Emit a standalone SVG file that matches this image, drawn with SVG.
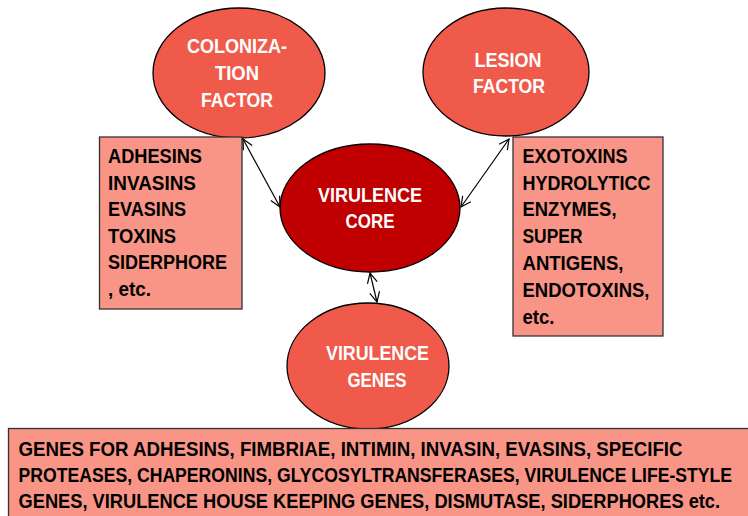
<svg xmlns="http://www.w3.org/2000/svg" width="748" height="516" viewBox="0 0 748 516">
<style>
.ell{fill:#F05A4B;stroke:#000;stroke-width:1.3}
.core{fill:#C00000;stroke:#000;stroke-width:1.3}
.box{fill:#F99586;stroke:#333;stroke-width:1.3}
.wt{font-family:"Liberation Sans",Arial,sans-serif;font-weight:bold;font-size:21px;fill:#fff;text-anchor:middle}
.bt{font-family:"Liberation Sans",Arial,sans-serif;font-weight:bold;font-size:21px;fill:#000}
.con{stroke:#000;stroke-width:1.2;fill:none;marker-start:url(#ah);marker-end:url(#ah)}
</style>
<defs>
<marker id="ah" viewBox="0 0 12 12" refX="11" refY="6" markerWidth="12" markerHeight="12" markerUnits="userSpaceOnUse" orient="auto-start-reverse">
<path d="M1,1 L11,6 L1,11" fill="none" stroke="#000" stroke-width="1.2"/>
</marker>
</defs>
<rect width="748" height="516" fill="#fff"/>
<g id="colonization">
<ellipse class="ell" cx="239" cy="73" rx="86" ry="65"/>
<text class="wt" x="237" y="53" textLength="100" lengthAdjust="spacingAndGlyphs">COLONIZA-</text>
<text class="wt" x="237" y="80" textLength="44" lengthAdjust="spacingAndGlyphs">TION</text>
<text class="wt" x="237" y="107" textLength="72" lengthAdjust="spacingAndGlyphs">FACTOR</text>
</g>
<g id="lesion">
<ellipse class="ell" cx="506" cy="72" rx="83" ry="64"/>
<text class="wt" x="508" y="67" textLength="67" lengthAdjust="spacingAndGlyphs">LESION</text>
<text class="wt" x="509" y="93" textLength="72" lengthAdjust="spacingAndGlyphs">FACTOR</text>
</g>
<g id="colonization-box">
<rect class="box" x="99.5" y="137" width="142.5" height="172"/>
<text class="bt" x="108" y="163" textLength="94" lengthAdjust="spacingAndGlyphs">ADHESINS</text>
<text class="bt" x="108" y="189.5" textLength="88" lengthAdjust="spacingAndGlyphs">INVASINS</text>
<text class="bt" x="108" y="216" textLength="78" lengthAdjust="spacingAndGlyphs">EVASINS</text>
<text class="bt" x="108" y="242.5" textLength="68" lengthAdjust="spacingAndGlyphs">TOXINS</text>
<text class="bt" x="108" y="269" textLength="119" lengthAdjust="spacingAndGlyphs">SIDERPHORE</text>
<text class="bt" x="108" y="296" textLength="43" lengthAdjust="spacingAndGlyphs">, etc.</text>
</g>
<g id="lesion-box">
<rect class="box" x="513" y="137" width="150" height="199"/>
<text class="bt" x="522.5" y="163" textLength="105" lengthAdjust="spacingAndGlyphs">EXOTOXINS</text>
<text class="bt" x="522.5" y="189.5" textLength="128" lengthAdjust="spacingAndGlyphs">HYDROLYTICC</text>
<text class="bt" x="522.5" y="216" textLength="94" lengthAdjust="spacingAndGlyphs">ENZYMES,</text>
<text class="bt" x="522.5" y="242.5" textLength="60" lengthAdjust="spacingAndGlyphs">SUPER</text>
<text class="bt" x="522.5" y="269.5" textLength="101" lengthAdjust="spacingAndGlyphs">ANTIGENS,</text>
<text class="bt" x="522.5" y="296.5" textLength="127" lengthAdjust="spacingAndGlyphs">ENDOTOXINS,</text>
<text class="bt" x="522.5" y="324" textLength="32" lengthAdjust="spacingAndGlyphs">etc.</text>
</g>
<g id="core">
<ellipse class="core" cx="370" cy="208" rx="90" ry="64"/>
<text class="wt" x="370" y="202" textLength="104" lengthAdjust="spacingAndGlyphs">VIRULENCE</text>
<text class="wt" x="370" y="228" textLength="49" lengthAdjust="spacingAndGlyphs">CORE</text>
</g>
<g id="genes">
<ellipse class="ell" cx="368" cy="366" rx="81" ry="63"/>
<text class="wt" x="377.5" y="360" textLength="103" lengthAdjust="spacingAndGlyphs">VIRULENCE</text>
<text class="wt" x="377" y="387" textLength="59" lengthAdjust="spacingAndGlyphs">GENES</text>
</g>
<g id="genes-box">
<rect class="box" x="8.5" y="428.5" width="750" height="100"/>
<text class="bt" transform="translate(18.5,455.5) scale(0.8,1)" x="0" y="0" textLength="830" lengthAdjust="spacingAndGlyphs">GENES FOR ADHESINS, FIMBRIAE, INTIMIN, INVASIN, EVASINS, SPECIFIC</text>
<text class="bt" transform="translate(18.5,481.5) scale(0.8,1)" x="0" y="0" textLength="892" lengthAdjust="spacingAndGlyphs">PROTEASES, CHAPERONINS, GLYCOSYLTRANSFERASES, VIRULENCE LIFE-STYLE</text>
<text class="bt" transform="translate(18.5,508) scale(0.8,1)" x="0" y="0" textLength="877" lengthAdjust="spacingAndGlyphs">GENES, VIRULENCE HOUSE KEEPING GENES, DISMUTASE, SIDERPHORES etc.</text>
</g>
<g id="connectors">
<line class="con" x1="243" y1="139" x2="280" y2="207"/>
<line class="con" x1="461" y1="207" x2="509" y2="139"/>
<line class="con" x1="370" y1="273" x2="377" y2="302"/>
</g>
</svg>
